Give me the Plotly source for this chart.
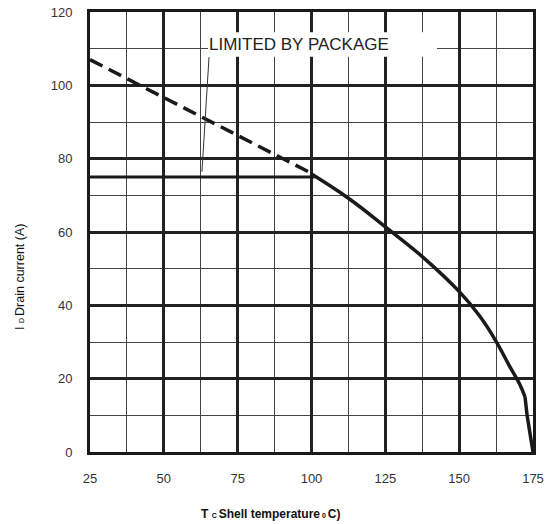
import plotly.graph_objects as go

# Data
dash_T = [25, 100]
dash_I = [107, 76]
limit_T = [25, 101]
limit_I = [75, 75]
curve_T = [100, 112.5, 125, 137.5, 150.2, 157, 162.5, 167, 170.5, 172.3]
curve_I = [75.8, 69.2, 61.4, 53.3, 43.6, 37, 30.2, 23.5, 18.5, 15]
tail_T = [172.3, 173, 175]
tail_I = [15, 10, 0]
x_ticks = [25, 50, 75, 100, 125, 150, 175]
y_ticks = [0, 20, 40, 60, 80, 100, 120]
leader_T = [65.3, 62.9]
leader_I = [107.7, 76.4]

line_col = "#1a1a1a"
fig = go.Figure()
fig.add_trace(go.Scatter(x=dash_T, y=dash_I, mode="lines",
                         line=dict(color=line_col, width=3.5, dash="14px,7px"),
                         showlegend=False, hoverinfo="skip"))
fig.add_trace(go.Scatter(x=limit_T, y=limit_I, mode="lines",
                         line=dict(color=line_col, width=3.2),
                         showlegend=False, hoverinfo="skip"))
fig.add_trace(go.Scatter(x=curve_T, y=curve_I, mode="lines",
                         line=dict(color=line_col, width=3.5, shape="spline", smoothing=1.2),
                         showlegend=False, hoverinfo="skip"))
fig.add_trace(go.Scatter(x=tail_T, y=tail_I, mode="lines",
                         line=dict(color=line_col, width=3.5),
                         showlegend=False, hoverinfo="skip"))
fig.add_trace(go.Scatter(x=leader_T, y=leader_I, mode="lines",
                         line=dict(color="#333", width=1),
                         showlegend=False, hoverinfo="skip"))

# white box behind annotation text
fig.add_shape(type="rect", xref="x", yref="y", x0=64.95, x1=142.5, y0=107.8, y1=114.5,
              fillcolor="white", line=dict(width=0), layer="above")
fig.add_annotation(x=64.9, y=111.2, xref="x", yref="y", text="LIMITED BY PACKAGE",
                   showarrow=False, xanchor="left", yanchor="middle", borderpad=0,
                   font=dict(family="Liberation Sans, Arial", size=17, color="#222"))

fig.add_annotation(x=-0.158, y=0.398, xref="paper", yref="paper",
                   text="I <span style='font-size:7px'>D </span>Drain current (A)", textangle=-90,
                   showarrow=False, xanchor="center", yanchor="middle",
                   font=dict(family="Liberation Sans, Arial", size=12.5, color="#111"))
fig.add_annotation(x=0.408, y=-0.141, xref="paper", yref="paper",
                   text="<b>T <span style='font-size:7px'>C </span>Shell temperature<span style='font-size:7px'> 0 </span>C)</b>",
                   showarrow=False, xanchor="center", yanchor="middle",
                   font=dict(family="Liberation Sans, Arial", size=12, color="#111"))

axis_common = dict(showline=True, mirror=True, linewidth=3, linecolor=line_col,
                   zeroline=False, ticks="", ticklabelstandoff=12, automargin=False,
                   tickfont=dict(family="Liberation Sans, Arial", size=13, color="#333"),
                   gridcolor="#222", gridwidth=2.5)
fig.update_xaxes(range=[25, 175], tickvals=x_ticks,
                 minor=dict(dtick=12.5, tick0=25, showgrid=True, gridcolor="#444", gridwidth=1.3),
                 **axis_common)
fig.update_yaxes(range=[0, 120], tickvals=y_ticks,
                 minor=dict(dtick=10, tick0=0, showgrid=True, gridcolor="#444", gridwidth=1.3),
                 **axis_common)

fig.update_layout(width=546, height=524, margin=dict(l=90, r=13, t=12, b=72),
                  plot_bgcolor="white", paper_bgcolor="white")
fig.write_html("out.html", config={"displayModeBar": False},
               post_script="document.body.style.margin='0';document.body.style.overflow='hidden';")
